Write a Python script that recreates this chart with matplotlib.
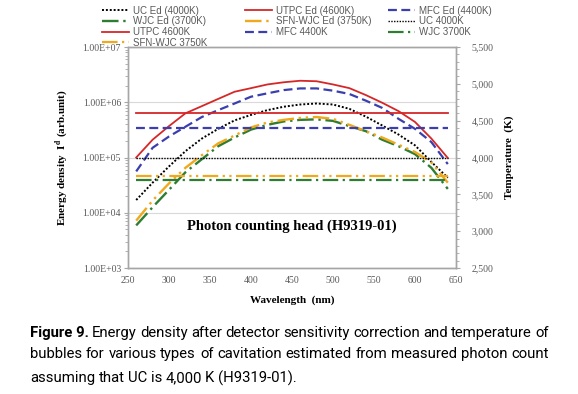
import math
import matplotlib
matplotlib.use("Agg")
import matplotlib.pyplot as plt
from matplotlib.ticker import FixedLocator, MultipleLocator, FuncFormatter, LogLocator, NullFormatter

# wavelength (nm)
wavelength = [260, 280, 300, 320, 340, 360, 380, 400, 420, 440,
              460, 480, 500, 520, 540, 560, 580, 600, 620, 640]

# energy density after sensitivity correction (arb. unit)
uc_ed = [1.7e4, 3.5e4, 6.9e4, 1.3e5, 2.2e5, 3.3e5, 4.7e5, 5.9e5, 7.2e5, 8.3e5,
         9.1e5, 9.5e5, 9.1e5, 7.6e5, 5.5e5, 3.8e5, 2.6e5, 1.66e5, 8.3e4, 4.3e4]
utpc_ed = [1.0e5, 2.1e5, 3.7e5, 6.3e5, 8.5e5, 1.15e6, 1.55e6, 1.8e6, 2.1e6, 2.3e6,
           2.45e6, 2.4e6, 2.1e6, 1.8e6, 1.35e6, 9.8e5, 6.9e5, 4.4e5, 2.2e5, 9.8e4]
mfc_ed = [5.6e4, 1.5e5, 2.4e5, 3.6e5, 5.4e5, 7.2e5, 9.5e5, 1.26e6, 1.45e6, 1.66e6,
          1.78e6, 1.78e6, 1.62e6, 1.41e6, 1.07e6, 7.9e5, 5.0e5, 3.3e5, 1.9e5, 7.6e4]
wjc_ed = [5.9e3, 1.26e4, 2.6e4, 5.4e4, 9.3e4, 1.6e5, 2.3e5, 3.2e5, 3.9e5, 4.5e5,
          4.8e5, 4.9e5, 4.6e5, 3.7e5, 3.0e5, 2.1e5, 1.6e5, 1.15e5, 6.5e4, 2.7e4]
sfn_ed = [7.2e3, 1.66e4, 3.4e4, 6.5e4, 1.1e5, 1.8e5, 2.5e5, 3.5e5, 4.3e5, 4.8e5,
          5.2e5, 5.4e5, 5.0e5, 3.9e5, 3.0e5, 2.3e5, 1.7e5, 1.26e5, 8.1e4, 3.5e4]

# estimated bubble temperature (K)
temp_uc = 4000
temp_utpc = 4600
temp_mfc = 4400
temp_wjc = 3700
temp_sfn = 3750

RED = "#d62728"
BLUE = "#3b3fae"
GREEN = "#2e7d32"
ORANGE = "#f0a81c"
GRAY = "#595959"
SERIF = "Liberation Serif"

plt.rcParams["mathtext.fontset"] = "stix"

fig = plt.figure(figsize=(5.78, 3.94), dpi=100)
ax = fig.add_axes([128 / 578, 1 - 268 / 394, 328 / 578, 221 / 394])
ax2 = ax.twinx()

dot = (0, (1, 1))
dash = (0, (4, 2))
dashdot = (0, (7, 2, 1, 2))
dashdotdot = (0, (7, 2, 1, 2, 1, 2))

ax.plot(wavelength, uc_ed, color="black", ls=dot, lw=1.4, label="UC Ed (4000K)")
ax.plot(wavelength, utpc_ed, color=RED, ls="-", lw=1.3, label="UTPC Ed (4600K)")
ax.plot(wavelength, mfc_ed, color=BLUE, ls=dash, lw=1.6, label="MFC Ed (4400K)")
ax.plot(wavelength, wjc_ed, color=GREEN, ls=dashdot, lw=1.7, label="WJC Ed (3700K)")
ax.plot(wavelength, sfn_ed, color=ORANGE, ls=dashdotdot, lw=1.7, label="SFN-WJC Ed (3750K)")

xr = [wavelength[0], wavelength[-1]]
ax2.plot(xr, [temp_uc] * 2, color="black", ls=(0, (1, 1)), lw=1.0, label="UC 4000K")
ax2.plot(xr, [temp_utpc] * 2, color=RED, ls="-", lw=1.3, label="UTPC 4600K")
ax2.plot(xr, [temp_mfc] * 2, color=BLUE, ls=dash, lw=1.6, label="MFC 4400K")
ax2.plot(xr, [temp_wjc] * 2, color=GREEN, ls=dashdot, lw=1.6, label="WJC 3700K")
ax2.plot(xr, [temp_sfn] * 2, color=ORANGE, ls=dashdotdot, lw=1.6, label="SFN-WJC 3750K")

# left axis (log)
ax.set_yscale("log")
ax.set_ylim(1e3, 1e7)
ax.set_xlim(250, 650)
ax.yaxis.set_major_locator(FixedLocator([1e3, 1e4, 1e5, 1e6, 1e7]))
ax.yaxis.set_minor_locator(LogLocator(base=10, subs=range(2, 10)))
ax.yaxis.set_minor_formatter(NullFormatter())
ax.yaxis.set_major_formatter(FuncFormatter(lambda v, p: "1.00E+%02d" % round(math.log10(v))))
ax.xaxis.set_major_locator(MultipleLocator(50))
ax.grid(axis="y", which="major", color="#d9d9d9", lw=0.8)
ax.set_axisbelow(True)

# right axis (temperature)
ax2.set_ylim(2500, 5500)
ax2.yaxis.set_major_locator(MultipleLocator(500))
ax2.yaxis.set_minor_locator(MultipleLocator(100))
ax2.yaxis.set_major_formatter(FuncFormatter(lambda v, p: f"{int(v):,}"))

for a in (ax, ax2):
    for s in a.spines.values():
        s.set_color("#a6a6a6")
        s.set_linewidth(1.0)
    a.tick_params(which="both", colors="#a6a6a6", labelcolor=GRAY, labelsize=7, direction="out")
    a.tick_params(which="major", length=3)
    a.tick_params(which="minor", length=2)
    for lab in a.get_xticklabels() + a.get_yticklabels():
        lab.set_fontfamily(SERIF)
ax.tick_params(axis="x", length=0, pad=6)
ax.tick_params(axis="y", pad=2)
ax2.tick_params(axis="y", pad=8)

ax.set_xlabel("Wavelength  (nm)", fontfamily=SERIF, fontweight="bold", fontsize=8, labelpad=7)
ax.set_ylabel(r"Energy density  I$^{\mathbf{d}}$ (arb.unit)", fontfamily=SERIF,
              fontweight="bold", fontsize=8, labelpad=9)
ax2.set_ylabel("Temperature  (K)", fontfamily=SERIF, fontweight="bold", fontsize=8, labelpad=8)

ax.text(0.5, 0.187, "Photon counting head (H9319-01)", transform=ax.transAxes,
        ha="center", va="center", fontfamily=SERIF, fontweight="bold", fontsize=10.5)

# legend, three columns placed like the original (row-major order)
h1, l1 = ax.get_legend_handles_labels()
h2, l2 = ax2.get_legend_handles_labels()
hd = dict(zip(l1 + l2, h1 + h2))
columns = [
    (97, ["UC Ed (4000K)", "WJC Ed (3700K)", "UTPC 4600K", "SFN-WJC 3750K"]),
    (240, ["UTPC Ed (4600K)", "SFN-WJC Ed (3750K)", "MFC 4400K"]),
    (383, ["MFC Ed (4400K)", "UC 4000K", "WJC 3700K"]),
]
for x0, names in columns:
    leg = fig.legend([hd[k] for k in names], names, loc="upper left",
                     bbox_to_anchor=(x0 / 578, 1 - 1 / 394), frameon=False,
                     prop={"family": "Liberation Sans", "size": 7}, handlelength=2.8,
                     handletextpad=0.4, labelspacing=0.06, borderpad=0)
    for t in leg.get_texts():
        t.set_color(GRAY)

# caption, justified like in the paper
cap_lines = [
    [("Figure 9.", "bold")] + [(w, "normal") for w in
        "Energy density after detector sensitivity correction and temperature of".split()],
    [(w, "normal") for w in "bubbles for various types of cavitation estimated from measured photon count".split()],
    [(w, "normal") for w in "assuming that UC is 4,000 K (H9319-01).".split()],
]
cap_y = [333, 354, 378]
left_px, right_px = 30, 549
cap_font = "Roboto"
cap_size = 11.5
renderer = fig.canvas.get_renderer()

# shrink the font until the two full lines fit with a normal word gap
def line_width(line, size):
    ts = [fig.text(0, 0, w, fontsize=size, fontweight=wt, family=cap_font) for w, wt in line]
    ws = [t.get_window_extent(renderer).width for t in ts]
    for t in ts:
        t.remove()
    return sum(ws) + 3.2 * (len(ws) - 1)

while max(line_width(cap_lines[0], cap_size), line_width(cap_lines[1], cap_size)) > right_px - left_px:
    cap_size -= 0.1

for i, line in enumerate(cap_lines):
    texts = [fig.text(0, 0, w, fontsize=cap_size, fontweight=wt, family=cap_font,
                      va="center", color="black") for w, wt in line]
    widths = [t.get_window_extent(renderer).width for t in texts]
    if i < 2:
        gap = (right_px - left_px - sum(widths)) / (len(texts) - 1)
    else:
        gap = 3.4
    x = left_px
    for t, w in zip(texts, widths):
        t.set_position((x / 578, 1 - cap_y[i] / 394))
        x += w + gap

fig.savefig("out.png", dpi=100)
